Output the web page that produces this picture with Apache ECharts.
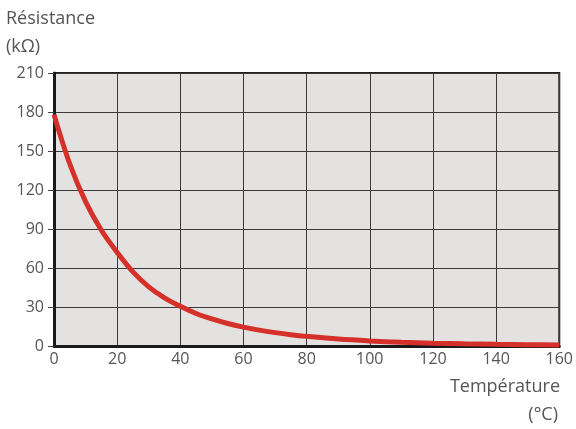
<!DOCTYPE html>
<html>
<head>
<meta charset="utf-8">
<script src="https://cdn.jsdelivr.net/npm/echarts@6/dist/echarts.min.js"></script>
<style>
  html, body { margin: 0; padding: 0; background: #fff; }
</style>
</head>
<body>
<div id="graphique-ntc" style="width: 576px; height: 429px;"></div>
<script>
// Température (°C) et résistance (kΩ)
const temperatures = [0, 5, 10, 15, 20, 25, 30, 35, 40, 45, 50, 55, 60, 65, 70, 75, 80, 90, 100, 110, 120, 130, 140, 150, 160];
const resistances = [178, 140, 111, 89, 72, 57, 45.5, 37, 30.5, 25, 20.8, 17.3, 14.5, 12.2, 10.3, 8.7, 7.4, 5.3, 3.9, 2.9, 2.2, 1.7, 1.3, 1.0, 0.8];
const ticksY = [0, 30, 60, 90, 120, 150, 180, 210];

const points = temperatures.map((t, i) => [t, resistances[i]]);

const couleurTexte = '#555';
const police = '"Open Sans", sans-serif';
const policeTitre = '18px ' + police;

const chart = echarts.init(document.getElementById('graphique-ntc'));

const option = {
  backgroundColor: '#fff',
  animation: false,
  graphic: [
    { type: 'text', left: 6, top: 10, style: { text: 'Résistance', font: policeTitre, fill: couleurTexte } },
    { type: 'text', left: 6, top: 38, style: { text: '(kΩ)', font: policeTitre, fill: couleurTexte } },
    { type: 'text', right: 16, top: 378, style: { text: 'Température', font: policeTitre, fill: couleurTexte } },
    { type: 'text', right: 18, top: 406, style: { text: '(°C)', font: policeTitre, fill: couleurTexte } },
  ],
  grid: {
    left: 54,
    right: 16,
    top: 73,
    bottom: 83,
    show: true,
    backgroundColor: '#e4e2e0',
    borderColor: '#222',
    borderWidth: 2,
  },
  xAxis: {
    type: 'value',
    min: 0,
    max: 160,
    interval: 20,
    axisLine: { show: true, onZero: false, lineStyle: { color: '#1a1a1a', width: 3 } },
    axisTick: { show: false },
    axisLabel: { fontFamily: police, fontSize: 16, color: couleurTexte, margin: 5 },
    splitLine: { show: true, lineStyle: { color: '#3a3a3a', width: 1 } },
  },
  yAxis: {
    type: 'value',
    min: ticksY[0],
    max: ticksY[ticksY.length - 1],
    interval: 30,
    axisLine: { show: true, lineStyle: { color: '#1a1a1a', width: 3 } },
    axisTick: { show: true, length: 6, lineStyle: { color: '#444', width: 1 } },
    axisLabel: { fontFamily: police, fontSize: 16, color: couleurTexte, margin: 10 },
    splitLine: { show: true, lineStyle: { color: '#3a3a3a', width: 1 } },
  },
  series: [
    {
      type: 'line',
      data: points,
      smooth: 0.35,
      showSymbol: false,
      clip: true,
      lineStyle: { color: '#d6302a', width: 5 },
    },
  ],
};

chart.setOption(option);
</script>
</body>
</html>
